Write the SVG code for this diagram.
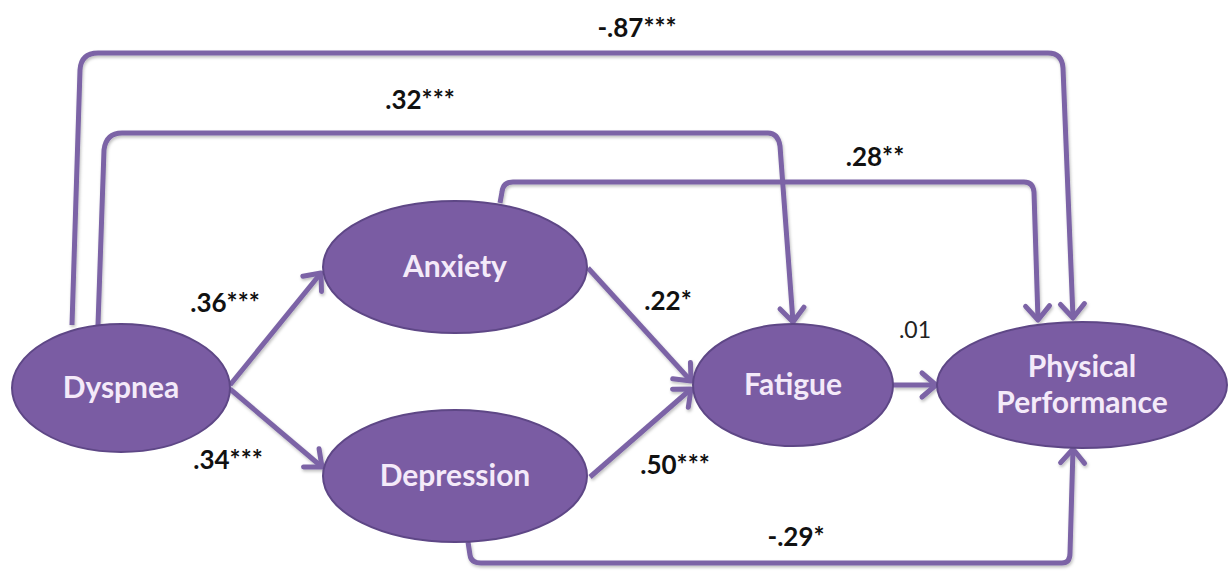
<svg xmlns="http://www.w3.org/2000/svg" width="1230" height="571" viewBox="0 0 1230 571">
<style>
.node{fill:#7a5ca3;stroke:#5e4786;stroke-width:2}
.nt{font-family:Lato,"Open Sans",sans-serif;font-weight:bold;font-size:30px;fill:#f4eaf9;text-anchor:middle}
.lbl{font-family:Lato,"Open Sans",sans-serif;font-weight:bold;font-size:26px;fill:#111;text-anchor:middle}
.lbln{font-family:Lato,"Open Sans",sans-serif;font-size:23px;fill:#222;text-anchor:middle}
.edge{fill:none;stroke:#7b64a6;stroke-width:5;stroke-linejoin:round;marker-end:url(#arr)}
</style>
<defs>
<marker id="arr" markerUnits="userSpaceOnUse" markerWidth="40" markerHeight="40" viewBox="-20 -20 40 40" refX="0" refY="0" orient="auto">
<path d="M-14,-12 L0,0 L-14,12" fill="none" stroke="#7b64a6" stroke-width="5" stroke-linecap="round" stroke-linejoin="round"/>
</marker>
<filter id="sh" x="-5%" y="-5%" width="110%" height="110%">
<feDropShadow dx="1" dy="2" stdDeviation="1.5" flood-color="#000" flood-opacity="0.25"/>
</filter>
</defs>
<g id="connectors" filter="url(#sh)">
<path class="edge" d="M72,325 L80,70 Q81,53 98,53 L1048,53 Q1062,53 1063,68 L1073,318"/>
<path class="edge" d="M98,325 L104,150 Q106,133 122,133 L768,133 Q778,133 780,146 L793,322"/>
<path class="edge" d="M500,203 L502,192 Q503,182 513,182 L1024,182 Q1033,182 1034,192 L1038,320"/>
<path class="edge" d="M230,385 L321,273"/>
<path class="edge" d="M230,389 L322,467"/>
<path class="edge" d="M588,268 L691,381"/>
<path class="edge" d="M590,477 L691,389"/>
<path class="edge" d="M893,385 L936,385"/>
<path class="edge" d="M468,542 L470,555 Q471,563 481,563 L1062,563 Q1070,563 1070,553 L1073,449"/>
</g>
<g id="labels">
<text class="lbl" x="637" y="37">-.87***</text>
<text class="lbl" x="420" y="109">.32***</text>
<text class="lbl" x="875" y="166">.28**</text>
<text class="lbl" x="225" y="312">.36***</text>
<text class="lbl" x="228" y="469">.34***</text>
<text class="lbl" x="668" y="310">.22*</text>
<text class="lbl" x="675" y="474">.50***</text>
<text class="lbln" x="915" y="338">.01</text>
<text class="lbl" x="796" y="546">-.29*</text>
</g>
<g id="dyspnea">
<ellipse class="node" cx="121" cy="388" rx="109" ry="64"/>
<text class="nt" x="121" y="398">Dyspnea</text>
</g>
<g id="anxiety">
<ellipse class="node" cx="455" cy="267" rx="132" ry="66"/>
<text class="nt" x="455" y="277">Anxiety</text>
</g>
<g id="depression">
<ellipse class="node" cx="455" cy="476" rx="132" ry="66"/>
<text class="nt" x="455" y="486">Depression</text>
</g>
<g id="fatigue">
<ellipse class="node" cx="793" cy="385" rx="100" ry="61"/>
<text class="nt" x="793" y="395">Fatigue</text>
</g>
<g id="physical-performance">
<ellipse class="node" cx="1082" cy="385" rx="145" ry="63"/>
<text class="nt" x="1082" y="377">Physical</text>
<text class="nt" x="1082" y="413">Performance</text>
</g>
</svg>
